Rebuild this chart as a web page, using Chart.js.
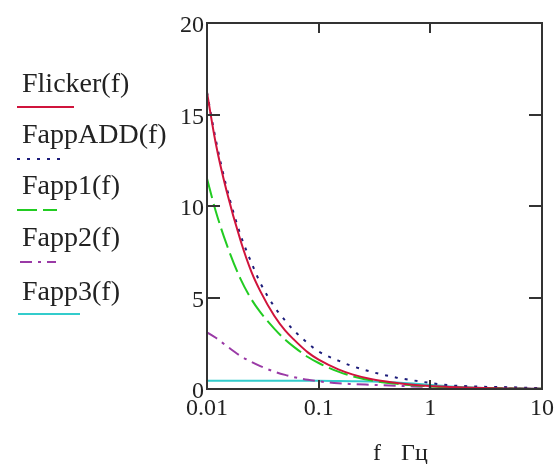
<!DOCTYPE html>
<html>
<head>
<meta charset="utf-8">
<script src="https://cdn.jsdelivr.net/npm/chart.js@4"></script>
<style>
  html, body { margin: 0; padding: 0; background: #fff; }
  #wrap { width: 560px; height: 464px; }
</style>
</head>
<body>
<div id="wrap"><canvas id="grafico"></canvas></div>
<script>
// frequencies (Гц) and values
const freqs    = [0.01, 0.012, 0.015, 0.02, 0.025, 0.03, 0.04, 0.05, 0.06, 0.08, 0.1, 0.15, 0.2, 0.3, 0.5, 0.7, 1, 1.5, 2, 3, 5, 7, 10];
const flicker  = [16.2, 13.4, 10.8, 8.1, 6.4, 5.35, 4.0, 3.2, 2.7, 2.0, 1.6, 1.07, 0.8, 0.53, 0.33, 0.23, 0.16, 0.11, 0.08, 0.05, 0.03, 0.02, 0.016];
const fappADD  = [16.2, 13.6, 11.0, 8.4, 6.9, 5.8, 4.5, 3.75, 3.2, 2.5, 2.05, 1.55, 1.25, 0.93, 0.62, 0.47, 0.33, 0.2, 0.16, 0.12, 0.1, 0.07, 0.05];
const fapp1    = [11.5, 9.7, 7.9, 6.0, 4.9, 4.2, 3.3, 2.7, 2.3, 1.75, 1.42, 0.95, 0.7, 0.46, 0.28, 0.2, 0.14, 0.09, 0.07, 0.05, 0.03, 0.02, 0.014];
const fapp2    = [3.1, 2.8, 2.35, 1.8, 1.48, 1.25, 0.95, 0.77, 0.65, 0.5, 0.42, 0.31, 0.27, 0.23, 0.18, 0.14, 0.11, 0.08, 0.06, 0.04, 0.03, 0.02, 0.02];
const fapp3    = [0.45, 0.45, 0.45, 0.45, 0.45, 0.45, 0.45, 0.45, 0.45, 0.45, 0.45, 0.44, 0.43, 0.41, 0.36, 0.3, 0.22, 0.14, 0.1, 0.06, 0.03, 0.02, 0.01];

const seriesNames = ["Flicker(f)", "FappADD(f)", "Fapp1(f)", "Fapp2(f)", "Fapp3(f)"];
const xTickValues = [0.01, 0.1, 1, 10];
const xTickLabels = ["0.01", "0.1", "1", "10"];
const yTickValues = [0, 5, 10, 15, 20];
const xTitle = "f";
const xUnit = "Гц";

function pares(ys) {
    return freqs.map((f, i) => ({ x: f, y: ys[i] }));
}

const estilos = [
    { color: "#d0143c", dash: [] },
    { color: "#1c1c7a", dash: [3, 7] },
    { color: "#22cc22", dash: [20, 6] },
    { color: "#9a3aa6", dash: [12, 6, 3, 6] },
    { color: "#33cccc", dash: [] }
];

const valores = [flicker, fappADD, fapp1, fapp2, fapp3];

const datasets = valores.map((v, i) => ({
    label: seriesNames[i],
    data: pares(v),
    borderColor: estilos[i].color,
    borderDash: estilos[i].dash,
    borderWidth: 2,
    pointRadius: 0,
    fill: false,
    cubicInterpolationMode: "monotone"
}));

const fuente = '24px "Liberation Serif", "Times New Roman", serif';

// marco, marcas hacia dentro, etiquetas y leyenda estilo Mathcad
const marcoPlugin = {
    id: "marco",
    afterDraw(chart) {
        const { ctx, chartArea: a, scales } = chart;
        const sx = scales.x, sy = scales.y;
        ctx.save();
        ctx.strokeStyle = "#333";
        ctx.lineWidth = 2;
        ctx.setLineDash([]);
        ctx.strokeRect(a.left, a.top, a.right - a.left, a.bottom - a.top);

        function linea(x1, y1, x2, y2) {
            ctx.beginPath();
            ctx.moveTo(x1, y1);
            ctx.lineTo(x2, y2);
            ctx.stroke();
        }

        // marcas internas
        xTickValues.slice(1, -1).forEach(v => {
            const px = Math.round(sx.getPixelForValue(v));
            linea(px, a.bottom, px, a.bottom - 9);
            linea(px, a.top, px, a.top + 10);
        });
        yTickValues.slice(1, -1).forEach(v => {
            const py = Math.round(sy.getPixelForValue(v));
            linea(a.left, py, a.left + 13, py);
            linea(a.right, py, a.right - 13, py);
        });

        ctx.fillStyle = "#222";
        ctx.font = fuente;

        // etiquetas eje y
        ctx.textAlign = "right";
        ctx.textBaseline = "middle";
        yTickValues.forEach(v => {
            ctx.fillText(String(v), a.left - 3, sy.getPixelForValue(v) + 3);
        });

        // etiquetas eje x
        ctx.textAlign = "center";
        ctx.textBaseline = "top";
        xTickValues.forEach((v, i) => {
            ctx.fillText(xTickLabels[i], sx.getPixelForValue(v), a.bottom + 8);
        });

        // titulo eje x
        ctx.textAlign = "left";
        ctx.textBaseline = "alphabetic";
        ctx.fillText(xTitle, 373, 460);
        ctx.fillText(xUnit, 401, 460);

        // leyenda
        const filas = [
            { yt: 92,  yl: 107, x1: 17, x2: 74 },
            { yt: 143, yl: 159, x1: 17, x2: 62 },
            { yt: 194, yl: 210, x1: 17, x2: 57 },
            { yt: 246, yl: 262, x1: 20, x2: 56 },
            { yt: 300, yl: 314, x1: 18, x2: 80 }
        ];
        ctx.font = '28px "Liberation Serif", "Times New Roman", serif';
        chart.data.datasets.forEach((ds, i) => {
            const f = filas[i];
            ctx.fillStyle = "#222";
            ctx.fillText(ds.label, 22, f.yt);
            ctx.strokeStyle = ds.borderColor;
            ctx.lineWidth = 2;
            ctx.setLineDash(ds.borderDash);
            linea(f.x1, f.yl, f.x2, f.yl);
        });
        ctx.restore();
    }
};

const ctx = document.getElementById("grafico").getContext("2d");
const chart = new Chart(ctx, {
    type: "line",
    data: { datasets: datasets },
    options: {
        responsive: true,
        maintainAspectRatio: false,
        animation: false,
        layout: { padding: { left: 207, top: 23, right: 18, bottom: 75 } },
        plugins: {
            legend: { display: false },
            tooltip: { enabled: false }
        },
        scales: {
            x: {
                type: "logarithmic",
                min: 0.01,
                max: 10,
                display: false
            },
            y: {
                type: "linear",
                min: 0,
                max: 20,
                display: false
            }
        }
    },
    plugins: [marcoPlugin]
});
</script>
</body>
</html>
